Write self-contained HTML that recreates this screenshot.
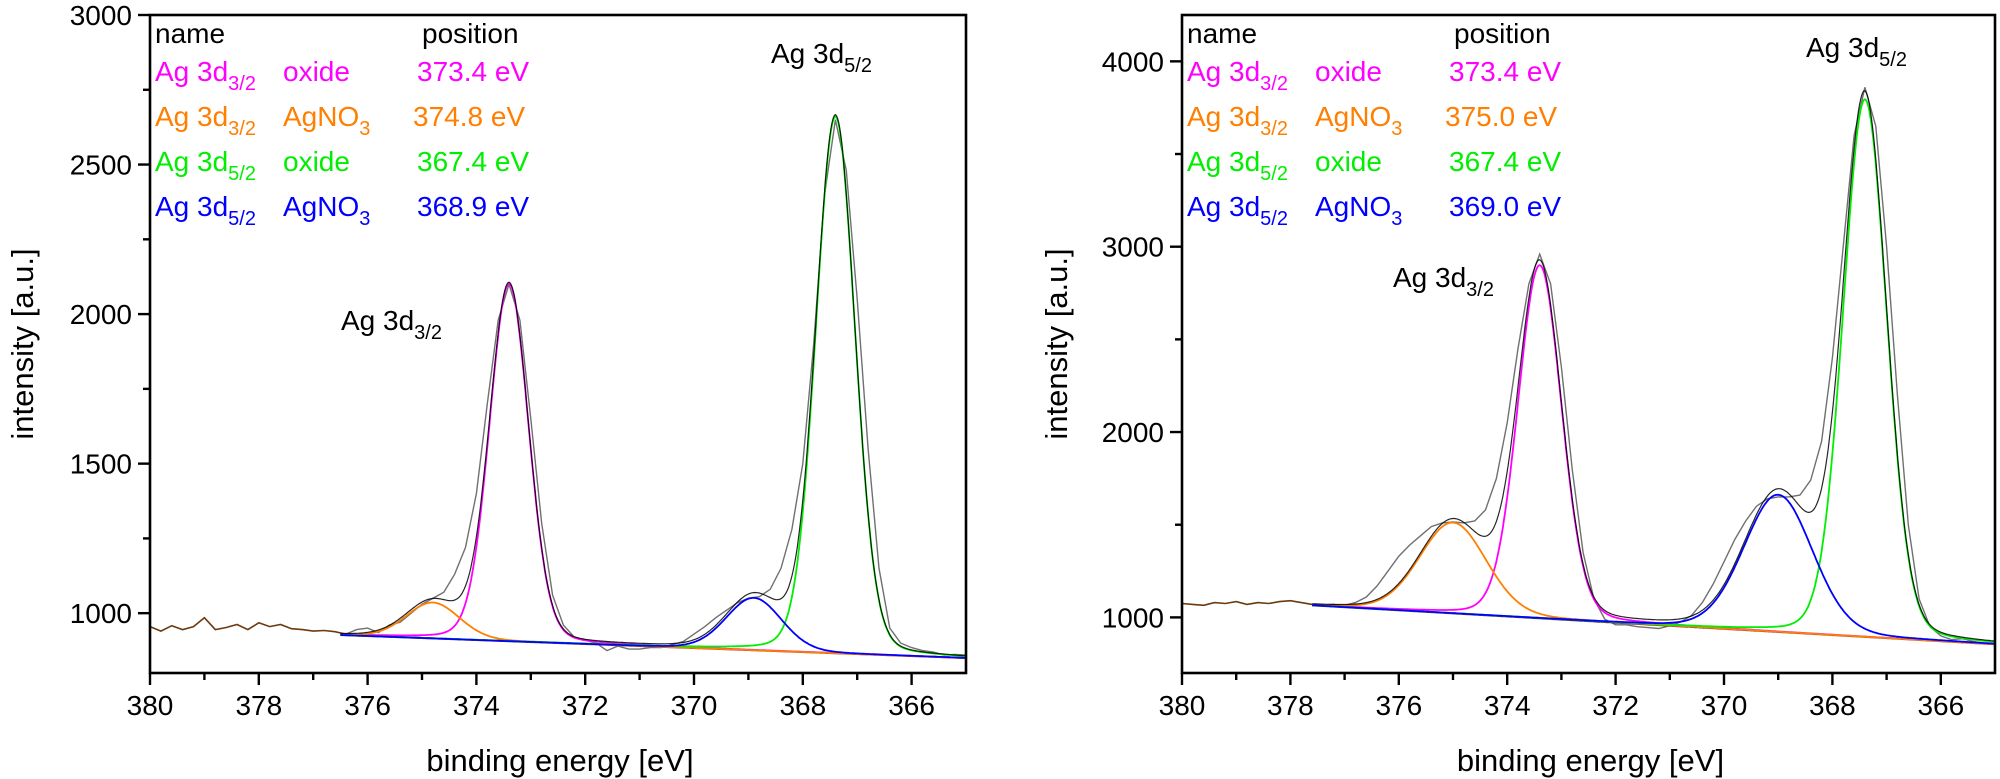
<!DOCTYPE html>
<html><head><meta charset="utf-8">
<style>
html,body{margin:0;padding:0;background:#fff;}
svg{display:block;font-family:"Liberation Sans",Arial,sans-serif;}
</style></head>
<body>
<svg id="chart" width="2000" height="779" viewBox="0 0 2000 779" xmlns="http://www.w3.org/2000/svg"></svg>
<script>
// ---- shared data ----
const xTickLabels = [380,378,376,374,372,370,368,366];
const energyGrid = [380.0,379.8,379.6,379.4,379.2,379.0,378.8,378.6,378.4,378.2,378.0,377.8,377.6,377.4,377.2,377.0,376.8,376.6,376.4,376.2,376.0,375.8,375.6,375.4,375.2,375.0,374.8,374.6,374.4,374.2,374.0,373.8,373.6,373.4,373.2,373.0,372.8,372.6,372.4,372.2,372.0,371.8,371.6,371.4,371.2,371.0,370.8,370.6,370.4,370.2,370.0,369.8,369.6,369.4,369.2,369.0,368.8,368.6,368.4,368.2,368.0,367.8,367.6,367.4,367.2,367.0,366.8,366.6,366.4,366.2,366.0,365.8,365.6,365.4,365.2,365.0];

// ---- left panel data ----
const leftRaw = [955,940,958,945,955,985,945,952,962,945,968,955,962,948,945,940,942,938,930,945,950,935,960,970,1000,1030,1050,1070,1130,1220,1400,1700,1980,2100,1980,1650,1300,1060,960,920,910,900,875,890,880,880,885,885,895,905,930,955,985,1010,1035,1050,1055,1080,1150,1280,1500,1900,2400,2650,2480,2050,1550,1150,950,900,885,875,870,860,862,860];
const leftYTicks = [1000,1500,2000,2500,3000];
const leftNames = ["oxide","AgNO3","oxide","AgNO3"];
const leftCenters = [373.4,374.8,367.4,368.9];
const leftHeights = [1195,120,1795,175];
const leftWidths = [0.85,1.15,0.85,1.2];
const leftBgStart = [376.5,927];
const leftBgEnd = [365.0,850];
const leftPosLabels = ["373.4 eV","374.8 eV","367.4 eV","368.9 eV"];

// ---- right panel data ----
const rightRaw = [1075,1070,1065,1080,1075,1085,1070,1080,1075,1085,1090,1080,1070,1068,1070,1065,1080,1110,1170,1250,1330,1390,1440,1490,1510,1515,1510,1520,1580,1750,2050,2450,2800,2960,2800,2350,1800,1350,1100,990,960,960,950,945,940,955,975,1010,1080,1180,1300,1420,1520,1600,1640,1650,1650,1660,1740,1950,2400,3000,3600,3860,3650,3000,2200,1500,1100,950,900,880,885,870,860,858];
const rightYTicks = [1000,2000,3000,4000];
const rightCenters = [373.4,375.0,367.4,369.0];
const rightHeights = [1905,490,2900,740];
const rightWidths = [0.95,1.45,0.95,1.5];
const rightBgStart = [377.6,1065];
const rightBgEnd = [365.0,855];
const rightPosLabels = ["373.4 eV","375.0 eV","367.4 eV","369.0 eV"];

const compColors = ["#ff00ff","#ff7f00","#00ee00","#0000ff"];
const compSub = ["3/2","3/2","5/2","5/2"];

const NS="http://www.w3.org/2000/svg";
const svg=document.getElementById('chart');
function mk(tag,attrs,parent){const e=document.createElementNS(NS,tag);for(const k in attrs)e.setAttribute(k,attrs[k]);(parent||svg).appendChild(e);return e;}

function pv(x,c,h,w){const d=x-c;const g=Math.exp(-4*Math.LN2*d*d/(w*w));const l=1/(1+4*d*d/(w*w));return h*(0.88*g+0.12*l);}

function panel(cfg){
  const g=mk('g',{});
  
  
  const X0=cfg.x0,X1=cfg.x1,Y0=15,Y1=673;
  const sx=v=>X0+(380-v)/(15)*(X1-X0);
  const sy=v=>Y1-(v-cfg.ymin)/(cfg.ymax-cfg.ymin)*(Y1-Y0);
  const bg=x=>cfg.bgS[1]+(x-cfg.bgS[0])*(cfg.bgE[1]-cfg.bgS[1])/(cfg.bgE[0]-cfg.bgS[0]);
  const clip='clip-'+cfg.name;
  const cp=mk('clipPath',{id:clip},g);mk('rect',{x:X0,y:Y0,width:X1-X0,height:Y1-Y0},cp);
  const plot=mk('g',{'clip-path':'url(#'+clip+')'},g);
  let pre='',post='';
  energyGrid.forEach((e,i)=>{const p=sx(e).toFixed(1)+','+sy(cfg.raw[i]).toFixed(1)+' ';
    if(e>=cfg.bgS[0]-0.15) pre+=p; if(e<=cfg.bgS[0]+0.05) post+=p;});
  const r1=mk('polyline',{points:pre,fill:'none',stroke:'#6b3a10','stroke-width':1.6},plot);
  
  
  const r2=mk('polyline',{points:post,fill:'none',stroke:'#707070','stroke-width':1.4},plot);
  
  
  const xs=[];for(let x=cfg.bgS[0];x>=364.99;x-=0.02)xs.push(x);
  let bgp='',envp='';
  xs.forEach(x=>{bgp+=sx(x).toFixed(1)+','+sy(bg(x)).toFixed(1)+' ';
    let s=bg(x);for(let k=0;k<4;k++)s+=pv(x,cfg.c[k],cfg.h[k],cfg.w[k]);
    envp+=sx(x).toFixed(1)+','+sy(s).toFixed(1)+' ';});
  const b1=mk('polyline',{points:bgp,fill:'none',stroke:'#8b4a10','stroke-width':2},plot);
  
  
  const b2=mk('polyline',{points:bgp,fill:'none',stroke:'#1a1a90','stroke-width':1.5},plot);
  
  
  for(let k=0;k<4;k++){let p='';xs.forEach(x=>{p+=sx(x).toFixed(1)+','+sy(bg(x)+pv(x,cfg.c[k],cfg.h[k],cfg.w[k])).toFixed(1)+' ';});
    const pl=mk('polyline',{points:p,fill:'none',stroke:compColors[k],'stroke-width':1.8},plot);
    
    }
  const en=mk('polyline',{points:envp,fill:'none',stroke:'#000','stroke-width':1.2,'stroke-opacity':0.85},plot);
  
  
  const fr=mk('rect',{x:X0,y:Y0,width:X1-X0,height:Y1-Y0,fill:'none',stroke:'#000','stroke-width':2.6},g);
  
  
  for(let v=366;v<=380;v+=1){const px=sx(v);const maj=(v%2===0);
    mk('line',{x1:px,y1:Y1,x2:px,y2:Y1+(maj?12:7),stroke:'#000','stroke-width':2.4},g);}
  xTickLabels.forEach(v=>{const t=mk('text',{x:sx(v),y:715,'font-size':28,'text-anchor':'middle'},g);t.textContent=v;
    
    });
  for(let v=cfg.minorStart;v<=cfg.ymax;v+=cfg.minor){const py=sy(v);const maj=cfg.yt.includes(v);
    mk('line',{x1:X0,y1:py,x2:X0-(maj?12:7),y2:py,stroke:'#000','stroke-width':2.4},g);}
  cfg.yt.forEach(v=>{const t=mk('text',{x:X0-18,y:sy(v)+10,'font-size':28,'text-anchor':'end'},g);t.textContent=v;
    
    });
  const xt=mk('text',{x:(X0+X1)/2+2,y:771,'font-size':31,'text-anchor':'middle'},g);xt.textContent='binding energy [eV]';
  
  
  const yt=mk('text',{x:0,y:0,'font-size':31,'text-anchor':'middle',transform:'translate('+(cfg.ylx)+',344) rotate(-90)'},g);yt.textContent='intensity [a.u.]';
  
  
  const lg=mk('g',{},g);
  
  
  const h1=mk('text',{x:X0+5,y:43,'font-size':28},lg);h1.textContent='name';
  const h2=mk('text',{x:X0+272,y:43,'font-size':28},lg);h2.textContent='position';
  const rowsY=[81,126,171,216];
  for(let k=0;k<4;k++){
    const t=mk('text',{x:X0+5,y:rowsY[k],'font-size':28,fill:compColors[k]},lg);
    
    
    t.innerHTML='Ag 3d<tspan font-size="20" dy="9">'+compSub[k]+'</tspan>';
    const n=mk('text',{x:X0+133,y:rowsY[k],'font-size':28,fill:compColors[k]},lg);
    n.innerHTML=leftNames[k]==='oxide'?'oxide':'AgNO<tspan font-size="20" dy="9">3</tspan>';
    const p=mk('text',{x:X0+(k===1?263:267),y:rowsY[k],'font-size':28,fill:compColors[k]},lg);
    p.textContent=cfg.pos[k];
  }
  cfg.peaks.forEach(pk=>{const t=mk('text',{x:pk[0],y:pk[1],'font-size':28},g);
    
    
    t.innerHTML='Ag 3d<tspan font-size="20" dy="9">'+pk[2]+'</tspan>';});
}

panel({name:'left-panel',x0:150,x1:966,ymin:800,ymax:3000,yt:leftYTicks,minor:250,minorStart:1000,raw:leftRaw,
  c:leftCenters,h:leftHeights,w:leftWidths,bgS:leftBgStart,bgE:leftBgEnd,pos:leftPosLabels,ylx:33,
  peaks:[[341,330,'3/2'],[771,63,'5/2']]});
panel({name:'right-panel',x0:1182,x1:1995,ymin:700,ymax:4250,yt:rightYTicks,minor:500,minorStart:1000,raw:rightRaw,
  c:rightCenters,h:rightHeights,w:rightWidths,bgS:rightBgStart,bgE:rightBgEnd,pos:rightPosLabels,ylx:1067,
  peaks:[[1393,287,'3/2'],[1806,57,'5/2']]});
</script>
</body></html>
